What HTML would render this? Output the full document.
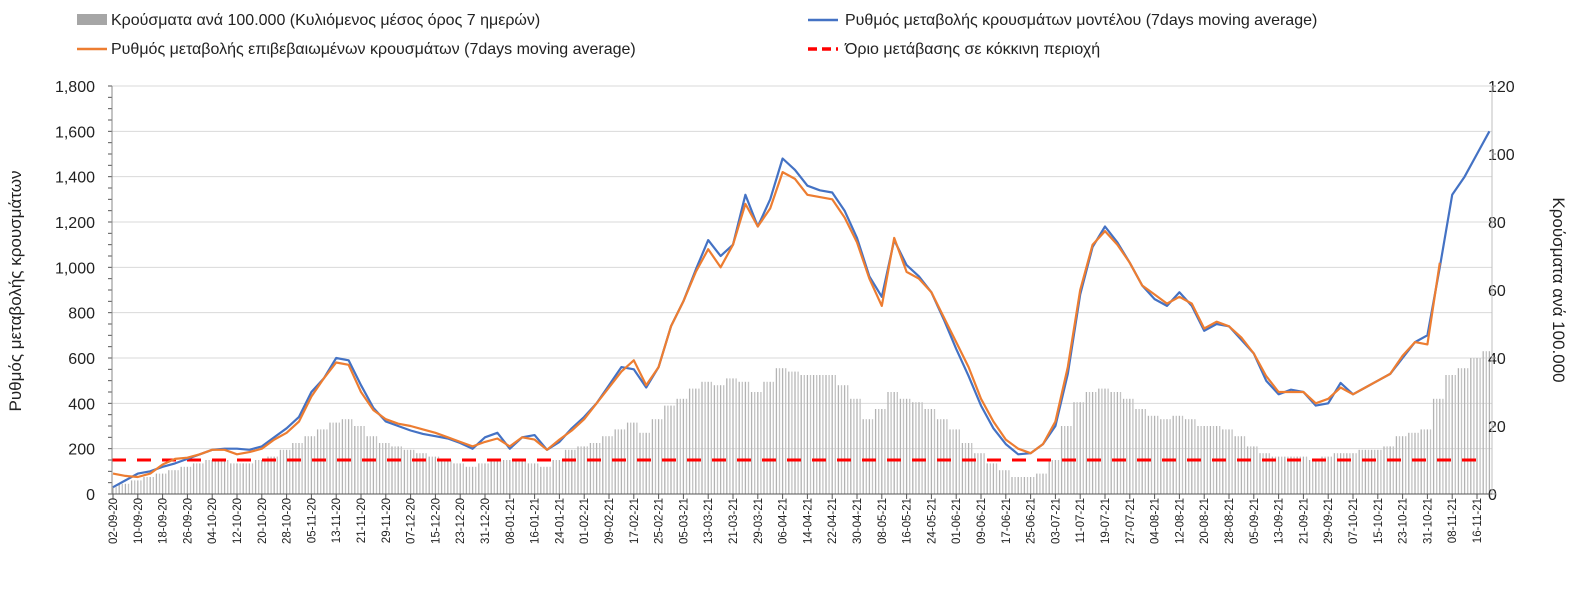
<!DOCTYPE html>
<html><head><meta charset="utf-8">
<style>
html,body{margin:0;padding:0;background:#fff;}
svg{display:block;font-family:"Liberation Sans","DejaVu Sans",sans-serif;}
</style></head>
<body>
<svg id="chart" width="1578" height="590" viewBox="0 0 1578 590" xmlns="http://www.w3.org/2000/svg">
<g id="legend">
  <g>
    <rect x="77" y="14" width="30" height="11" fill="#a6a6a6"/>
    <text x="111" y="25" font-size="16" fill="#222">Κρούσματα ανά 100.000 (Κυλιόμενος μέσος όρος 7 ημερών)</text>
  </g>
  <g>
    <line x1="808" y1="20" x2="838" y2="20" stroke="#4472c4" stroke-width="2.5"/>
    <text x="845" y="25" font-size="16" fill="#222">Ρυθμός μεταβολής κρουσμάτων μοντέλου (7days moving average)</text>
  </g>
  <g>
    <line x1="77" y1="49" x2="107" y2="49" stroke="#ed7d31" stroke-width="2.5"/>
    <text x="111" y="54" font-size="16" fill="#222">Ρυθμός μεταβολής επιβεβαιωμένων κρουσμάτων (7days moving average)</text>
  </g>
  <g>
    <line x1="808" y1="49" x2="838" y2="49" stroke="#ff0000" stroke-width="3.5" stroke-dasharray="9,5"/>
    <text x="845" y="54" font-size="16" fill="#222">Όριο μετάβασης σε κόκκινη περιοχή</text>
  </g>
</g>
<g id="grid"></g>
<g id="bars"></g>
<g id="lines"></g>
<g id="axes"></g>
<text transform="translate(21,291) rotate(-90)" text-anchor="middle" font-size="17" fill="#222">Ρυθμός μεταβολής κρουσμάτων</text>
<text transform="translate(1553,290) rotate(90)" text-anchor="middle" font-size="17" fill="#222">Κρούσματα ανά 100.000</text>
</svg>
<script>
const dayStep = 4;
const modelRate = [30,60,90,100,120,135,155,175,195,200,200,195,210,250,290,340,450,510,600,590,480,380,320,300,280,265,255,245,225,200,250,270,200,250,260,195,230,290,340,400,480,560,550,470,560,740,850,990,1120,1050,1100,1320,1180,1300,1480,1430,1360,1340,1330,1250,1130,960,870,1120,1010,960,890,770,640,520,390,290,220,175,180,220,300,530,880,1090,1180,1110,1020,920,860,830,890,830,720,750,740,680,620,500,440,460,450,390,400,490,440,470,500,530,600,670,700,1000,1320,1400,1500,1600];
const confirmedRate = [90,80,75,90,130,155,160,175,195,195,175,185,200,240,270,320,430,510,580,570,450,370,330,310,300,285,270,250,230,210,230,245,210,250,240,195,240,280,330,400,470,540,590,480,560,740,850,980,1080,1000,1100,1280,1180,1260,1420,1390,1320,1310,1300,1220,1110,950,830,1130,980,950,890,780,670,560,420,320,240,200,180,220,320,560,900,1100,1160,1100,1020,920,880,840,870,840,730,760,740,690,620,520,450,450,450,400,420,470,440,470,500,530,610,670,660,1020,null,null,null,null];
const casesPer100k = [2,3,4,5,6,7,8,9,10,10,9,9,10,11,13,15,17,19,21,22,20,17,15,14,13,12,11,10,9,8,9,10,10,10,9,8,10,13,14,15,17,19,21,18,22,26,28,31,33,32,34,33,30,33,37,36,35,35,35,32,28,22,25,30,28,27,25,22,19,15,12,9,7,5,5,6,10,20,27,30,31,30,28,25,23,22,23,22,20,20,19,17,14,12,11,11,11,10,11,12,12,13,13,14,17,18,19,28,35,37,40,42];
const leftTicks = [0,200,400,600,800,1000,1200,1400,1600,1800];
const rightTicks = [0,20,40,60,80,100,120];
const dateLabels = ["02-09-20","10-09-20","18-09-20","26-09-20","04-10-20","12-10-20","20-10-20","28-10-20","05-11-20","13-11-20","21-11-20","29-11-20","07-12-20","15-12-20","23-12-20","31-12-20","08-01-21","16-01-21","24-01-21","01-02-21","09-02-21","17-02-21","25-02-21","05-03-21","13-03-21","21-03-21","29-03-21","06-04-21","14-04-21","22-04-21","30-04-21","08-05-21","16-05-21","24-05-21","01-06-21","09-06-21","17-06-21","25-06-21","03-07-21","11-07-21","19-07-21","27-07-21","04-08-21","12-08-21","20-08-21","28-08-21","05-09-21","13-09-21","21-09-21","29-09-21","07-10-21","15-10-21","23-10-21","31-10-21","08-11-21","16-11-21"];
const threshold = 150;

const NS="http://www.w3.org/2000/svg";
const X0=113, PXD=3.1, PL=112, PR=1492, YB=494, YT=86;
const xDay = d => X0 + d*PXD;
const yL = v => YB - (v/1800)*(YB-YT);
const yR = v => YB - (v/120)*(YB-YT);
function mk(tag, attrs, parent){const e=document.createElementNS(NS,tag);for(const k in attrs)e.setAttribute(k,attrs[k]);parent.appendChild(e);return e;}
const grid=document.getElementById('grid'), bars=document.getElementById('bars'), lines=document.getElementById('lines'), axes=document.getElementById('axes');

leftTicks.forEach(t=>{
  const g=mk('line',{x1:PL,x2:PR,y1:yL(t),y2:yL(t),stroke:t===0?'#bfbfbf':'#d9d9d9','stroke-width':1},grid);
  
  
  const tx=mk('text',{x:95,y:yL(t)+6,'text-anchor':'end','font-size':16,fill:'#222'},axes);
  tx.textContent=t.toLocaleString('en-US');
  
  
});
for(let i=0;i<=36;i++){const y=YB-i*(YB-YT)/36;mk('line',{x1:PL-4,x2:PL,y1:y,y2:y,stroke:'#555','stroke-width':1},axes);}
rightTicks.forEach(t=>{
  const tx=mk('text',{x:1488,y:yR(t)+6,'font-size':16,fill:'#222'},axes);
  tx.textContent=t;
  
  
  mk('line',{x1:PR,x2:PR+4,y1:yR(t),y2:yR(t),stroke:'#999'},axes);
});
mk('line',{x1:PL,x2:PL,y1:YT,y2:YB,stroke:'#888','stroke-width':1},axes);
mk('line',{x1:PR,x2:PR,y1:YT,y2:YB,stroke:'#bfbfbf','stroke-width':1},axes);
mk('line',{x1:PL,x2:PR,y1:YB,y2:YB,stroke:'#555','stroke-width':1},axes);

const nDays=(casesPer100k.length-1)*dayStep;
for(let d=0; d<=nDays; d++){
  const v=casesPer100k[Math.round(d/dayStep)];
  const b=mk('rect',{x:xDay(d)-0.65,y:yR(v),width:1.3,height:YB-yR(v),fill:d%2?'#c4c4c4':'#b3b3b3'},bars);
  
  
}

const th=mk('line',{x1:PL,x2:PR-8,y1:yL(threshold),y2:yL(threshold),stroke:'#ff0000','stroke-width':3,'stroke-dasharray':'14,11'},lines);



function path(arr,color,name){
  let d='',pen=false;
  arr.forEach((v,i)=>{ if(v===null){pen=false;return;} d+=(pen?'L':'M')+xDay(i*dayStep).toFixed(1)+','+yL(v).toFixed(1); pen=true;});
  const p=mk('path',{d:d,fill:'none',stroke:color,'stroke-width':2.2,'stroke-linejoin':'round'},lines);
  
  
}
path(modelRate,'#4472c4','model-rate-line');
path(confirmedRate,'#ed7d31','confirmed-rate-line');

dateLabels.forEach((lab,i)=>{
  const x=xDay(i*8);
  mk('line',{x1:x,x2:x,y1:YB,y2:YB+5,stroke:'#555'},axes);
  const t=mk('text',{transform:`translate(${x+4},${YB+4}) rotate(-90)`,'text-anchor':'end','font-size':11.5,fill:'#222'},axes);
  t.textContent=lab;
  
  
});
</script>
</body></html>
